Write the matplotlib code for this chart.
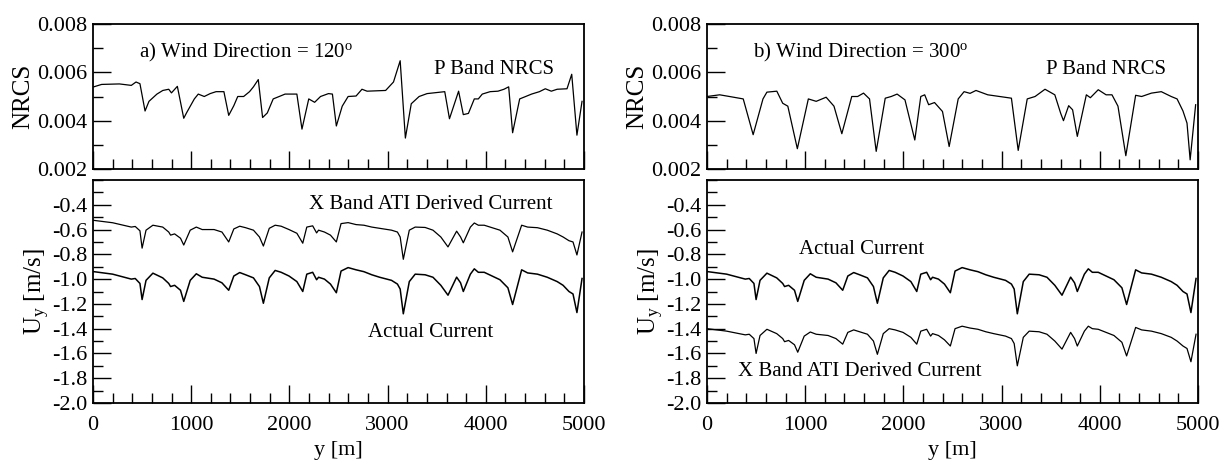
import matplotlib
matplotlib.use("Agg")
import matplotlib.pyplot as plt
from matplotlib.ticker import MultipleLocator, FormatStrFormatter

plt.rcParams['font.family'] = ['Liberation Serif', 'DejaVu Serif']
plt.rcParams['mathtext.fontset'] = 'custom'
plt.rcParams['mathtext.rm'] = 'Liberation Serif'
plt.rcParams['mathtext.it'] = 'Liberation Serif:italic'
plt.rcParams['axes.unicode_minus'] = False

# --- datos ---
# a) direccion del viento 120 grados
nrcs_a_y = [0, 88, 269, 390, 438, 478, 530, 570, 651, 711, 771, 799, 859, 924, 952,
            1032, 1072, 1133, 1193, 1253, 1333, 1382, 1434, 1474, 1534, 1594, 1634,
            1683, 1727, 1775, 1835, 1896, 1956, 2076, 2128, 2197, 2257, 2317, 2398,
            2438, 2478, 2538, 2598, 2679, 2739, 2791, 2980, 3060, 3128, 3181, 3241,
            3321, 3402, 3582, 3630, 3723, 3771, 3823, 3883, 3924, 3964, 4044, 4124,
            4185, 4233, 4273, 4345, 4406, 4466, 4546, 4606, 4667, 4727, 4827, 4875,
            4928, 4980]
nrcs_a = [0.00539, 0.00550, 0.00552, 0.00546, 0.00560, 0.00553, 0.00440, 0.00480,
          0.00510, 0.00525, 0.00530, 0.00515, 0.00542, 0.00410, 0.00432, 0.00490,
          0.00510, 0.00500, 0.00512, 0.00520, 0.00520, 0.00422, 0.00462, 0.00500,
          0.00500, 0.00520, 0.00540, 0.00570, 0.00413, 0.00432, 0.00490, 0.00500,
          0.00510, 0.00510, 0.00365, 0.00490, 0.00476, 0.00500, 0.00512, 0.00510,
          0.00378, 0.00460, 0.00500, 0.00502, 0.00530, 0.00522, 0.00525, 0.00560,
          0.00648, 0.00328, 0.00470, 0.00500, 0.00512, 0.00520, 0.00408, 0.00522,
          0.00425, 0.00430, 0.00490, 0.00490, 0.00510, 0.00520, 0.00522, 0.00530,
          0.00540, 0.00350, 0.00490, 0.00500, 0.00510, 0.00520, 0.00532, 0.00522,
          0.00530, 0.00532, 0.00592, 0.00340, 0.00480]

# corrientes (mismo eje y para todas)
cur_y = [0, 200, 390, 430, 478, 500, 540, 610, 710, 771, 790, 831, 891, 924, 990,
         1052, 1112, 1233, 1313, 1382, 1434, 1494, 1554, 1634, 1695, 1735, 1795,
         1855, 1916, 1996, 2076, 2136, 2177, 2237, 2277, 2297, 2357, 2418, 2478,
         2526, 2598, 2679, 2759, 2839, 2919, 3040, 3100, 3128, 3160, 3221, 3281,
         3382, 3462, 3542, 3615, 3703, 3743, 3771, 3843, 3883, 3924, 3984, 4064,
         4144, 4225, 4273, 4365, 4426, 4526, 4626, 4727, 4787, 4847, 4888, 4928, 4980]
xband_a = [-0.525, -0.545, -0.580, -0.575, -0.610, -0.750, -0.605, -0.565, -0.580,
           -0.620, -0.645, -0.635, -0.670, -0.725, -0.605, -0.580, -0.600, -0.600,
           -0.620, -0.700, -0.595, -0.573, -0.585, -0.605, -0.660, -0.733, -0.590,
           -0.565, -0.573, -0.600, -0.630, -0.710, -0.580, -0.570, -0.627, -0.605,
           -0.620, -0.645, -0.700, -0.552, -0.544, -0.560, -0.565, -0.580, -0.590,
           -0.605, -0.620, -0.660, -0.840, -0.605, -0.580, -0.583, -0.605, -0.660,
           -0.740, -0.613, -0.660, -0.707, -0.580, -0.547, -0.565, -0.565, -0.585,
           -0.605, -0.660, -0.780, -0.565, -0.580, -0.585, -0.605, -0.635, -0.660,
           -0.690, -0.700, -0.805, -0.620]
actual = [-0.939, -0.960, -1.000, -0.995, -1.035, -1.165, -1.010, -0.952, -0.990,
          -1.035, -1.060, -1.050, -1.090, -1.180, -1.010, -0.957, -0.985, -1.000,
          -1.030, -1.090, -0.975, -0.947, -0.965, -0.990, -1.060, -1.195, -0.990,
          -0.930, -0.945, -0.975, -1.020, -1.100, -0.960, -0.945, -1.005, -0.985,
          -1.000, -1.040, -1.110, -0.935, -0.907, -0.925, -0.940, -0.965, -0.985,
          -1.010, -1.040, -1.080, -1.280, -1.020, -0.960, -0.965, -0.985, -1.050,
          -1.130, -0.984, -1.030, -1.100, -0.960, -0.917, -0.945, -0.945, -0.975,
          -1.005, -1.070, -1.205, -0.925, -0.950, -0.960, -0.985, -1.020, -1.050,
          -1.100, -1.120, -1.270, -0.995]
xband_b = [-1.400, -1.420, -1.450, -1.445, -1.480, -1.600, -1.455, -1.405, -1.440,
           -1.480, -1.505, -1.495, -1.530, -1.590, -1.460, -1.427, -1.445, -1.455,
           -1.480, -1.525, -1.430, -1.410, -1.425, -1.445, -1.500, -1.607, -1.440,
           -1.400, -1.410, -1.430, -1.470, -1.525, -1.420, -1.405, -1.460, -1.440,
           -1.455, -1.490, -1.540, -1.400, -1.380, -1.395, -1.405, -1.425, -1.440,
           -1.460, -1.480, -1.520, -1.700, -1.470, -1.420, -1.425, -1.445, -1.500,
           -1.565, -1.430, -1.480, -1.540, -1.420, -1.380, -1.400, -1.405, -1.430,
           -1.455, -1.510, -1.620, -1.390, -1.410, -1.420, -1.440, -1.470, -1.500,
           -1.540, -1.560, -1.667, -1.445]

# b) direccion del viento 300 grados
nrcs_b_y = [0, 129, 229, 369, 470, 570, 610, 711, 771, 823, 920, 1032, 1112, 1213,
            1293, 1373, 1474, 1534, 1594, 1655, 1723, 1815, 1876, 1936, 2016, 2116,
            2177, 2217, 2257, 2317, 2398, 2466, 2558, 2618, 2679, 2739, 2859, 2980,
            3100, 3169, 3261, 3341, 3442, 3542, 3602, 3630, 3683, 3723, 3771, 3863,
            3904, 3984, 4064, 4124, 4185, 4265, 4365, 4426, 4526, 4626, 4727, 4787,
            4847, 4888, 4920, 4976]
nrcs_b = [0.00500, 0.00507, 0.00500, 0.00490, 0.00342, 0.00490, 0.00518, 0.00522,
          0.00472, 0.00460, 0.00284, 0.00490, 0.00480, 0.00497, 0.00460, 0.00346,
          0.00500, 0.00500, 0.00514, 0.00490, 0.00273, 0.00493, 0.00500, 0.00510,
          0.00486, 0.00320, 0.00500, 0.00507, 0.00466, 0.00475, 0.00438, 0.00293,
          0.00490, 0.00520, 0.00513, 0.00525, 0.00507, 0.00500, 0.00493, 0.00277,
          0.00490, 0.00500, 0.00530, 0.00507, 0.00430, 0.00400, 0.00462, 0.00445,
          0.00335, 0.00507, 0.00495, 0.00528, 0.00507, 0.00507, 0.00460, 0.00255,
          0.00505, 0.00500, 0.00514, 0.00520, 0.00500, 0.00490, 0.00440, 0.00390,
          0.00238, 0.00466]

W, H = 1231, 463
fig = plt.figure(figsize=(W / 100, H / 100), dpi=100)

def box(x0, y_top, y_bot, w=491):
    return [x0 / W, 1 - y_bot / H, w / W, (y_bot - y_top) / H]

def style(ax, major_y, minor_y):
    ax.set_xlim(0, 5000)
    ax.xaxis.set_major_locator(MultipleLocator(1000))
    ax.xaxis.set_minor_locator(MultipleLocator(200))
    ax.yaxis.set_major_locator(MultipleLocator(major_y))
    ax.yaxis.set_minor_locator(MultipleLocator(minor_y))
    ax.tick_params(which='both', direction='in', top=False, right=False,
                   labelsize=16, width=1)
    ax.tick_params(which='major', length=13)
    ax.tick_params(which='minor', length=7)
    ax.tick_params(axis='x', pad=9)
    ax.tick_params(axis='y', pad=4)
    for s in ax.spines.values():
        s.set_linewidth(1.3)

panels = [
    (93, nrcs_a_y, nrcs_a, xband_a, actual, "a) Wind Direction = 120$^{\\mathrm{o}}$",
     4085, [(3440, -0.395, "X Band ATI Derived Current"), (3440, -1.43, "Actual Current")]),
    (707, nrcs_b_y, nrcs_b, xband_b, actual, "b) Wind Direction = 300$^{\\mathrm{o}}$",
     4065, [(1578, -0.765, "Actual Current"), (1560, -1.745, "X Band ATI Derived Current")]),
]

for x0, ny, nv, xb, ac, title, px, labels in panels:
    ax1 = fig.add_axes(box(x0, 24, 169))
    ax1.plot(ny, nv, color='black', lw=0.9)
    ax1.set_ylim(0.002, 0.008)
    style(ax1, 0.002, 0.001)
    ax1.yaxis.set_major_formatter(FormatStrFormatter('%.3f'))
    ax1.tick_params(axis='x', labelbottom=False)
    ax1.set_ylabel("NRCS", fontsize=18, labelpad=2)
    ax1.text(470, 0.00682, title, fontsize=15, va='center', ha='left')
    ax1.text(px, 0.0061, "P Band NRCS", fontsize=15, va='center', ha='center')

    ax2 = fig.add_axes(box(x0, 180, 403))
    ax2.plot(cur_y, xb, color='black', lw=0.9)
    ax2.plot(cur_y, ac, color='black', lw=1.1)
    ax2.set_ylim(-2.0, -0.2)
    style(ax2, 0.2, 0.1)
    ax2.set_yticks([-2.0, -1.8, -1.6, -1.4, -1.2, -1.0, -0.8, -0.6, -0.4])
    ax2.yaxis.set_major_formatter(FormatStrFormatter('%.1f'))
    ax2.set_xlabel("y [m]", fontsize=16, labelpad=5)
    ax2.set_ylabel("U$_{\\mathrm{y}}$ [m/s]", fontsize=18, labelpad=0)
    for lx, ly, txt in labels:
        ax2.text(lx, ly, txt, fontsize=15, va='center', ha='center')

fig.savefig("out.png", dpi=100)
